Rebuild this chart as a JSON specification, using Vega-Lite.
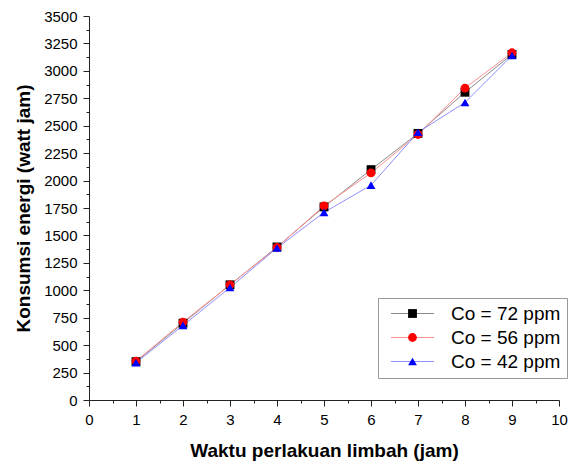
{
  "$schema": "https://vega.github.io/schema/vega-lite/v6.json",
  "width": 470,
  "height": 384,
  "autosize": {"type": "none"},
  "padding": {"left": 89, "top": 16, "right": 15, "bottom": 63},
  "background": "white",
  "config": {
    "font": "Liberation Sans",
    "view": {"stroke": null},
    "axis": {
      "grid": false,
      "domainColor": "#222",
      "tickColor": "#222",
      "labelColor": "#000",
      "titleColor": "#000",
      "labelFont": "Liberation Sans",
      "titleFont": "Liberation Sans",
      "labelFontSize": 15,
      "titleFontSize": 19,
      "titleFontWeight": "bold",
      "tickSize": 6,
      "domainWidth": 1,
      "tickWidth": 1
    }
  },
  "data": {
    "values": [
      {"x": 1, "y": 350, "series": "Co = 72 ppm"},
      {"x": 2, "y": 700, "series": "Co = 72 ppm"},
      {"x": 3, "y": 1050, "series": "Co = 72 ppm"},
      {"x": 4, "y": 1395, "series": "Co = 72 ppm"},
      {"x": 5, "y": 1760, "series": "Co = 72 ppm"},
      {"x": 6, "y": 2100, "series": "Co = 72 ppm"},
      {"x": 7, "y": 2430, "series": "Co = 72 ppm"},
      {"x": 8, "y": 2805, "series": "Co = 72 ppm"},
      {"x": 9, "y": 3150, "series": "Co = 72 ppm"},
      {"x": 1, "y": 355, "series": "Co = 56 ppm"},
      {"x": 2, "y": 710, "series": "Co = 56 ppm"},
      {"x": 3, "y": 1050, "series": "Co = 56 ppm"},
      {"x": 4, "y": 1390, "series": "Co = 56 ppm"},
      {"x": 5, "y": 1770, "series": "Co = 56 ppm"},
      {"x": 6, "y": 2070, "series": "Co = 56 ppm"},
      {"x": 7, "y": 2420, "series": "Co = 56 ppm"},
      {"x": 8, "y": 2843, "series": "Co = 56 ppm"},
      {"x": 9, "y": 3165, "series": "Co = 56 ppm"},
      {"x": 1, "y": 340, "series": "Co = 42 ppm"},
      {"x": 2, "y": 680, "series": "Co = 42 ppm"},
      {"x": 3, "y": 1025, "series": "Co = 42 ppm"},
      {"x": 4, "y": 1385, "series": "Co = 42 ppm"},
      {"x": 5, "y": 1710, "series": "Co = 42 ppm"},
      {"x": 6, "y": 1958, "series": "Co = 42 ppm"},
      {"x": 7, "y": 2440, "series": "Co = 42 ppm"},
      {"x": 8, "y": 2712, "series": "Co = 42 ppm"},
      {"x": 9, "y": 3140, "series": "Co = 42 ppm"}
    ]
  },
  "layer": [
    {
      "mark": {"type": "line", "strokeWidth": 1},
      "encoding": {
        "x": {
          "field": "x", "type": "quantitative",
          "scale": {"domain": [0, 10], "nice": false, "zero": false},
          "axis": {"orient": "bottom", "values": [0,1,2,3,4,5,6,7,8,9,10], "format": "d", "labelPadding": 6, "title": "Waktu perlakuan limbah (jam)", "titlePadding": 14, "labelFlush": false}
        },
        "y": {
          "field": "y", "type": "quantitative",
          "scale": {"domain": [0, 3500], "nice": false},
          "axis": {"orient": "left", "values": [0,250,500,750,1000,1250,1500,1750,2000,2250,2500,2750,3000,3250,3500], "format": "d", "labelPadding": 6, "title": "Konsumsi energi (watt jam)", "titlePadding": 10, "labelFlush": false}
        },
        "stroke": {
          "field": "series", "type": "nominal",
          "scale": {"domain": ["Co = 72 ppm", "Co = 56 ppm", "Co = 42 ppm"], "range": ["#8a8a8a", "#ff8f8f", "#8f8fff"]},
          "legend": {
            "title": null, "orient": "none", "legendX": 289, "legendY": 282,
            "symbolType": "M -2.5 0 L 2.5 0", "symbolSize": 296, "symbolStrokeWidth": 1, "symbolOffset": 19,
            "symbolFillColor": "transparent",
            "labelFontSize": 19, "labelFont": "Liberation Sans", "labelColor": "#000", "labelOffset": 29,
            "padding": 6, "rowPadding": 4, "fillColor": "white", "strokeColor": "#999"
          }
        }
      }
    },
    {
      "mark": {"type": "point", "filled": true, "opacity": 1, "size": 78, "strokeWidth": 0},
      "encoding": {
        "x": {"field": "x", "type": "quantitative", "axis": null},
        "y": {"field": "y", "type": "quantitative", "axis": null},
        "fill": {
          "field": "series", "type": "nominal", "sort": "descending",
          "scale": {"range": ["#000000", "#ff0000", "#0000ff"]},
          "legend": {
            "title": null, "orient": "none", "legendX": 289, "legendY": 282,
            "symbolSize": 78, "symbolStrokeWidth": 0, "symbolOffset": 19,
            "labelFontSize": 19, "labelFont": "Liberation Sans", "labelExpr": "''", "labelOffset": 9,
            "padding": 6, "rowPadding": 4
          }
        },
        "shape": {
          "field": "series", "type": "nominal", "sort": "descending",
          "scale": {"range": ["square", "circle", "triangle-up"]},
          "legend": {
            "title": null, "orient": "none", "legendX": 289, "legendY": 282,
            "symbolSize": 78, "symbolStrokeWidth": 0, "symbolOffset": 19,
            "labelFontSize": 19, "labelFont": "Liberation Sans", "labelExpr": "''", "labelOffset": 9,
            "padding": 6, "rowPadding": 4
          }
        }
      }
    },
    {
      "mark": {"type": "point", "opacity": 0},
      "encoding": {
        "x": {"field": "x", "type": "quantitative",
          "axis": {"orient": "bottom", "values": [0.5,1.5,2.5,3.5,4.5,5.5,6.5,7.5,8.5,9.5], "labels": false, "domain": false, "tickSize": 3, "title": null}},
        "y": {"field": "y", "type": "quantitative",
          "axis": {"orient": "left", "values": [125,375,625,875,1125,1375,1625,1875,2125,2375,2625,2875,3125,3375], "labels": false, "domain": false, "tickSize": 3, "title": null}}
      }
    }
  ],
  "resolve": {"axis": {"x": "independent", "y": "independent"}}
}
